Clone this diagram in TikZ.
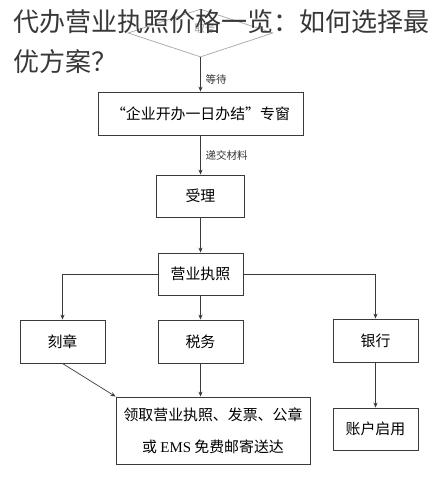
\documentclass[tikz,border=0pt]{standalone}
\usepackage{fontspec}
\setmainfont{Noto Sans CJK SC}
\newfontfamily\latinserif{Liberation Serif}
\usetikzlibrary{shapes.geometric,arrows.meta}
\definecolor{boxline}{HTML}{3A3A3A}
\definecolor{titlegray}{HTML}{383838}
\tikzset{
  flowbox/.style={draw=boxline, line width=0.7pt, inner sep=0pt, font=\fontsize{10.6pt}{13pt}\selectfont},
  flowarrow/.style={draw=boxline, line width=0.5pt, -{Stealth[length=3.5pt,width=3pt]}},
  steplabel/.style={font=\fontsize{7.5pt}{9pt}\selectfont, text=black!80}
}
\begin{document}
\begin{tikzpicture}[x=0.025cm, y=-0.025cm]
\useasboundingbox (0,0) rectangle (428,496);
% start
\node[diamond, aspect=3, draw=black!35, line width=0.5pt, inner sep=0pt,
      minimum width=145*0.025cm, minimum height=48*0.025cm] (quhao) at (200.5,33) {};
\node[steplabel, text=black!40] (quhaotxt) at (205,29) {取号};
% boxes
\node[flowbox, minimum width=205*0.025cm, minimum height=43*0.025cm] (window) at (200.5,113.5) {“企业开办一日办结”专窗};
\node[flowbox, minimum width=88*0.025cm, minimum height=42*0.025cm] (accept) at (200.5,196) {受理};
\node[flowbox, minimum width=85*0.025cm, minimum height=42*0.025cm] (licence) at (200.5,274) {营业执照};
\node[flowbox, minimum width=85*0.025cm, minimum height=43*0.025cm] (seal) at (62.5,341.5) {刻章};
\node[flowbox, minimum width=85*0.025cm, minimum height=43*0.025cm] (tax) at (200.5,341.5) {税务};
\node[flowbox, minimum width=85*0.025cm, minimum height=43*0.025cm] (bank) at (375.5,340.5) {银行};
\node[flowbox, minimum width=194*0.025cm, minimum height=67*0.025cm, align=center,
      font=\fontsize{10.6pt}{23pt}\selectfont] (collect) at (213,430.5)
      {领取营业执照、发票、公章\\或 {\latinserif EMS} 免费邮寄送达};
\node[flowbox, minimum width=85*0.025cm, minimum height=42*0.025cm] (account) at (375.5,429) {账户启用};
% arrows
\draw[flowarrow] (quhao.south) -- node[steplabel, right, pos=0.65] {等待} (window.north);
\draw[flowarrow] (window.south) -- node[steplabel, right] {递交材料} (accept.north);
\draw[flowarrow] (accept.south) -- (licence.north);
\draw[flowarrow] (licence.west) -| (seal.north);
\draw[flowarrow] (licence.east) -| (bank.north);
\draw[flowarrow] (licence.south) -- (tax.north);
\draw[flowarrow] (seal.south) -- (collect.north west);
\draw[flowarrow] (tax.south) -- (tax.south |- collect.north);
\draw[flowarrow] (bank.south) -- (account.north);
% title
\node[anchor=north west, align=left, inner sep=0pt, text=titlegray,
      font=\fontsize{18.5pt}{28.5pt}\selectfont] (title) at (13,9)
      {代办营业执照价格一览：如何选择最\\优方案？};
\end{tikzpicture}
\end{document}
